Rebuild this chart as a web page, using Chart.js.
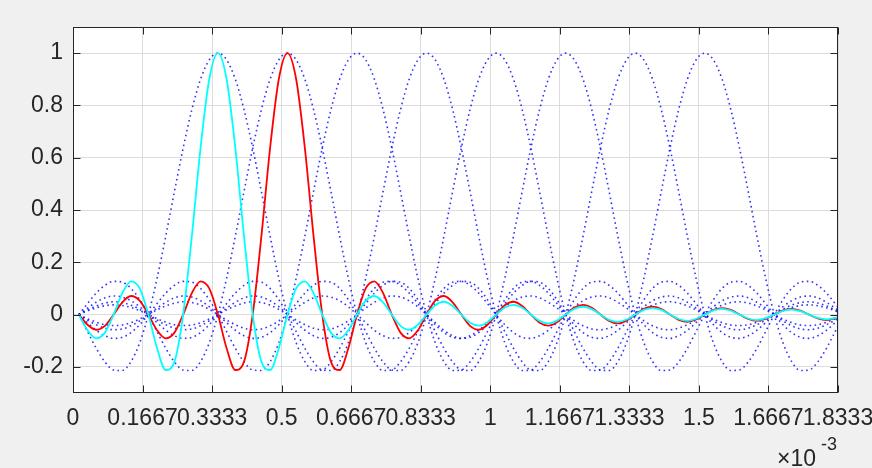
<!DOCTYPE html>
<html>
<head>
<meta charset="utf-8">
<script src="https://cdn.jsdelivr.net/npm/chart.js@4/dist/chart.umd.min.js"></script>
<style>
  html, body { margin: 0; padding: 0; background: #f0f0f0; }
  canvas { display: block; }
</style>
</head>
<body>
<canvas id="c" width="872" height="468"></canvas>
<script>
// --- data (time in ms, axis shows x 10^-3 s) ---
const tStart = 0.014;      // first sample, curves start a bit right of 0
const tStep = 1 / 48;      // sample spacing
const tCount = 89;

// pulse shape, value at 0,1,2,... samples from the peak
const narrowPulse = [1,
  0.900, 0.637, 0.300, 0, -0.180, -0.212, -0.129, 0, 0.100, 0.127, 0.082, 0,
  -0.069, -0.091, -0.060, 0, 0.053, 0.071, 0.047, 0, -0.043, -0.058, -0.039, 0,
  0.036, 0.049, 0.033, 0, -0.031, -0.042, -0.029, 0, 0.027, 0.037, 0.026, 0,
  -0.024, -0.034, -0.023, 0, 0.022, 0.030, 0.021, 0, -0.020, -0.028, -0.019, 0,
  0.018, 0.025, 0.018, 0, -0.017, -0.024, -0.016, 0, 0.016, 0.022, 0.015, 0,
  -0.015, -0.021, -0.014, 0, 0.014, 0.019, 0.013, 0, -0.013, -0.018, -0.013, 0];
const widePulse = [1,
  0.974, 0.900, 0.784, 0.637, 0.471, 0.300, 0.139, 0,
  -0.108, -0.180, -0.214, -0.212, -0.181, -0.129, -0.065, 0,
  0.057, 0.100, 0.124, 0.127, 0.112, 0.082, 0.042, 0,
  -0.039, -0.069, -0.087, -0.091, -0.081, -0.060, -0.031, 0,
  0.030, 0.053, 0.067, 0.071, 0.064, 0.047, 0.025, 0,
  -0.024, -0.043, -0.055, -0.058, -0.052, -0.039, -0.021, 0,
  0.020, 0.036, 0.046, 0.049, 0.044, 0.033, 0.018, 0,
  -0.017, -0.031, -0.040, -0.042, -0.039, -0.029, -0.016, 0,
  0.015, 0.027, 0.035, 0.037, 0.034, 0.026, 0.014, 0];

const cyanPeak = 0.347;
const redPeak = 0.514;
const dottedPeaks = [0.347, 0.514, 0.681, 0.847, 1.014, 1.181, 1.347, 1.514];

const xTicks = [0, 1/6, 2/6, 3/6, 4/6, 5/6, 1, 7/6, 8/6, 9/6, 10/6, 11/6];
const xTickLabels = ['0', '0.1667', '0.3333', '0.5', '0.6667', '0.8333', '1',
  '1.1667', '1.3333', '1.5', '1.6667', '1.8333'];
const yTicks = [-0.2, 0, 0.2, 0.4, 0.6, 0.8, 1];
const yTickLabels = ['-0.2', '0', '0.2', '0.4', '0.6', '0.8', '1'];

const times = Array.from({ length: tCount }, (_, i) => tStart + i * tStep);

function pulse(shape, peak) {
  const c = Math.round((peak - tStart) / tStep);
  return times.map((t, i) => ({ x: t, y: shape[Math.abs(i - c)] ?? 0 }));
}

const FONT = '"Liberation Sans", Arial, Helvetica, sans-serif';
const TXT = '#262626';

const datasets = [
  { data: pulse(narrowPulse, cyanPeak), borderColor: '#00ffff', borderWidth: 1.8 },
  { data: pulse(narrowPulse, redPeak), borderColor: '#ff0000', borderWidth: 1.8 }
];
dottedPeaks.forEach(p => {
  datasets.push({
    data: pulse(widePulse, p),
    borderColor: 'rgba(0,0,255,0.8)',
    borderWidth: 1.6,
    borderDash: [1.6, 3.4]
  });
});

// figure background, axes box, inner ticks, exponent
const frame = {
  id: 'frame',
  beforeDraw(chart) {
    const { ctx, chartArea: a } = chart;
    ctx.save();
    ctx.fillStyle = '#f0f0f0';
    ctx.fillRect(0, 0, chart.width, chart.height);
    ctx.fillStyle = '#ffffff';
    ctx.fillRect(a.left, a.top, a.right - a.left, a.bottom - a.top);
    ctx.restore();
  },
  afterDraw(chart) {
    const { ctx, chartArea: a, scales } = chart;
    const L = Math.round(a.left) + 0.5, R = Math.round(a.right) - 0.5;
    const T = Math.round(a.top) + 0.5, B = Math.round(a.bottom) - 0.5;
    const len = 7;
    ctx.save();
    ctx.strokeStyle = TXT;
    ctx.lineWidth = 1;
    ctx.strokeRect(L, T, R - L, B - T);
    ctx.beginPath();
    xTicks.forEach(v => {
      const px = Math.round(scales.x.getPixelForValue(v)) + 0.5;
      ctx.moveTo(px, B); ctx.lineTo(px, B - len);
      ctx.moveTo(px, T); ctx.lineTo(px, T + len);
    });
    yTicks.forEach(v => {
      const py = Math.round(scales.y.getPixelForValue(v)) + 0.5;
      ctx.moveTo(L, py); ctx.lineTo(L + len, py);
      ctx.moveTo(R, py); ctx.lineTo(R - len, py);
    });
    ctx.stroke();

    ctx.fillStyle = TXT;
    ctx.textAlign = 'left';
    ctx.textBaseline = 'alphabetic';
    ctx.font = '23px ' + FONT;
    ctx.fillText('\u00d710', 777, 466);
    ctx.font = '18px ' + FONT;
    ctx.fillText('-3', 821, 450);
    ctx.restore();
  }
};

new Chart(document.getElementById('c'), {
  type: 'line',
  data: { datasets },
  options: {
    responsive: false,
    devicePixelRatio: 1,
    animation: false,
    events: [],
    layout: { padding: { left: 0, right: 34, top: 27, bottom: 0 } },
    elements: {
      point: { radius: 0 },
      line: { cubicInterpolationMode: 'monotone', fill: false }
    },
    plugins: { legend: { display: false }, tooltip: { enabled: false } },
    scales: {
      x: {
        type: 'linear',
        min: 0,
        max: 11 / 6,
        afterBuildTicks: s => { s.ticks = xTicks.map(v => ({ value: v })); },
        afterFit: s => { s.height = 75; s.paddingLeft = 0; s.paddingRight = 0; },
        grid: { color: '#dcdcdc', lineWidth: 1, drawTicks: false },
        border: { display: false },
        ticks: {
          autoSkip: false,
          maxRotation: 0,
          minRotation: 0,
          padding: 12,
          color: TXT,
          font: { family: FONT, size: 23 },
          callback: (v, i) => xTickLabels[i]
        }
      },
      y: {
        min: -0.3,
        max: 1.1,
        afterBuildTicks: s => { s.ticks = yTicks.map(v => ({ value: v })); },
        afterFit: s => { s.width = 73; },
        grid: { color: '#dcdcdc', lineWidth: 1, drawTicks: false },
        border: { display: false },
        ticks: {
          padding: 10,
          color: TXT,
          font: { family: FONT, size: 23 },
          callback: (v, i) => yTickLabels[i]
        }
      }
    }
  },
  plugins: [frame]
});
</script>
</body>
</html>
